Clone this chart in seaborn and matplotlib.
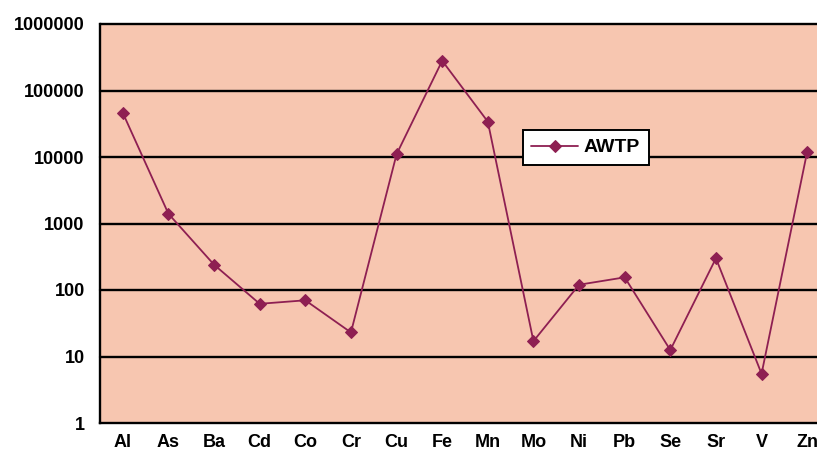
import matplotlib
matplotlib.use("Agg")
import matplotlib.pyplot as plt
import seaborn as sns
import pandas as pd
from matplotlib.ticker import FixedLocator, NullLocator

elements = ["Al", "As", "Ba", "Cd", "Co", "Cr", "Cu", "Fe", "Mn", "Mo",
            "Ni", "Pb", "Se", "Sr", "V", "Zn"]
awtp = [46000, 1400, 240, 62, 70, 23, 11000, 280000, 34000, 17,
        120, 155, 12.5, 300, 5.5, 12000]
y_ticks = [1, 10, 100, 1000, 10000, 100000, 1000000]
y_labels = ["1", "10", "100", "1000", "10000", "100000", "1000000"]

sns.set_style("white")
plt.rcParams["font.family"] = ["Liberation Sans", "DejaVu Sans"]
plt.rcParams["text.color"] = "black"
plt.rcParams["xtick.color"] = "black"
plt.rcParams["ytick.color"] = "black"

df = pd.DataFrame({"element": elements, "value": awtp, "pos": range(len(elements))})

fig = plt.figure(figsize=(8.17, 4.59), dpi=100)
fig.patch.set_facecolor("white")
ax = fig.add_axes([100 / 817, 1 - 423 / 459, 730 / 817, 399 / 459])
ax.set_facecolor("#f7c6b0")

line_color = "#8e1f52"
sns.lineplot(data=df, x="pos", y="value", ax=ax, color=line_color,
             marker="D", markersize=6.5, markeredgecolor=line_color,
             linewidth=1.3, label="AWTP", zorder=3)

ax.set_yscale("log")
ax.set_ylim(1, 1000000)
ax.set_xlim(-0.5, len(elements) - 0.5)

ax.yaxis.set_major_locator(FixedLocator(y_ticks))
ax.yaxis.set_minor_locator(NullLocator())
ax.set_yticklabels(y_labels, fontsize=13, fontweight="bold", color="black")
for yv in y_ticks[1:]:
    ax.axhline(yv, color="black", linewidth=1.7, zorder=1, clip_on=False)

ax.set_xticks(range(len(elements)))
ax.set_xticklabels(elements, fontsize=13, fontweight="bold", color="black")
ax.set_xticks([i + 0.5 for i in range(len(elements) - 1)], minor=True)
ax.tick_params(axis="x", which="major", length=0, pad=8)
ax.tick_params(axis="x", which="minor", length=5, width=1.3, direction="out", color="black")
ax.tick_params(axis="y", which="major", length=5, width=1.3, direction="out", color="black", pad=6)
ax.set_xlabel("")
ax.set_ylabel("")

for side in ["top", "right"]:
    ax.spines[side].set_visible(False)
for side in ["left", "bottom"]:
    ax.spines[side].set_color("black")
    ax.spines[side].set_linewidth(1.7)

leg = ax.legend(loc="upper left", bbox_to_anchor=(0.579, 0.734), borderaxespad=0,
                frameon=True, fancybox=False, fontsize=14, handlelength=2.4,
                handletextpad=0.3, borderpad=0.45)
leg.get_frame().set_edgecolor("black")
leg.get_frame().set_linewidth(1.4)
leg.get_frame().set_facecolor("white")
leg.get_frame().set_alpha(1)
for t in leg.get_texts():
    t.set_fontweight("bold")
    t.set_color("black")

fig.savefig("out.png", dpi=100)
